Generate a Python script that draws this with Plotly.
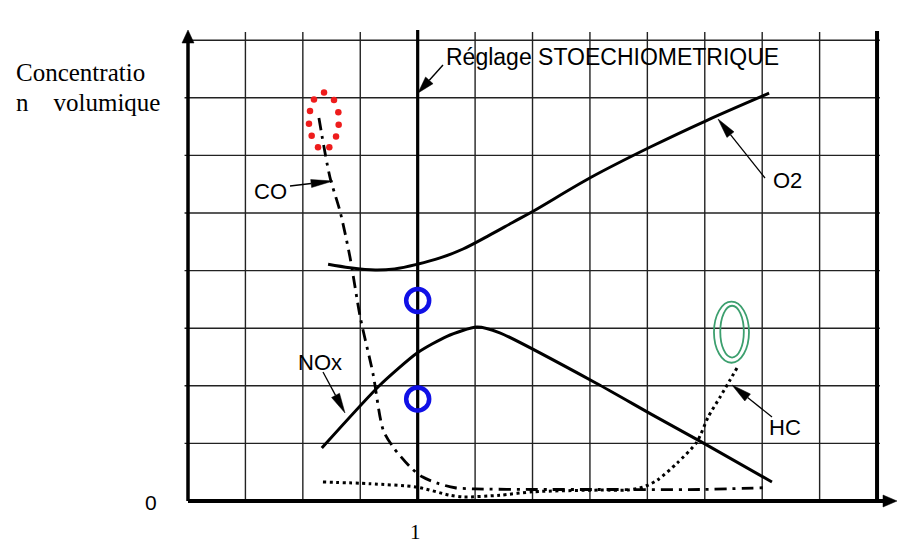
import math
import plotly.graph_objects as go

# ---------------- data (grid units: x = richness steps, stoich at 4; y = concentration steps) ----
o2_x = [2.44, 2.82, 3.26, 3.60, 3.99, 4.39, 4.79, 5.26, 5.66, 6.01, 7.02, 8.06, 9.04, 10.12]
o2_y = [4.11, 4.05, 4.01, 4.03, 4.11, 4.22, 4.375, 4.62, 4.84, 5.03, 5.62, 6.15, 6.61, 7.08]

nox_x = [2.33, 3.34, 3.99, 4.51, 5.03, 5.43, 7.12, 8.08, 8.97, 10.17]
nox_y = [0.92, 2.01, 2.57, 2.86, 3.02, 2.92, 2.04, 1.50, 1.01, 0.33]

co_x = [2.28, 2.47, 2.65, 2.82, 3.00, 3.22, 3.40, 3.57, 3.87, 4.08, 4.34, 4.65, 5.00, 6.00, 7.18, 8.92, 10.01]
co_y = [6.65, 5.63, 5.02, 4.24, 3.19, 2.22, 1.23, 0.94, 0.59, 0.42, 0.31, 0.23, 0.21, 0.20, 0.20, 0.20, 0.23]

hc_x = [2.35, 3.17, 3.99, 4.56, 4.79, 5.43, 6.01, 7.18, 7.65, 7.92, 8.17, 8.52, 8.86, 9.06, 9.27, 9.44, 9.56]
hc_y = [0.33, 0.30, 0.24, 0.10, 0.07, 0.10, 0.16, 0.19, 0.19, 0.24, 0.36, 0.66, 1.02, 1.46, 1.81, 2.10, 2.31]

# red dotted highlight around CO start
red_dots_x = [2.369, 2.194, 2.543, 2.125, 2.618, 2.107, 2.624, 2.154, 2.578, 2.264, 2.461]
red_dots_y = [7.09, 6.97, 6.96, 6.77, 6.75, 6.55, 6.53, 6.34, 6.33, 6.14, 6.14]

# blue circles on the stoichiometric line
blue_x = [4.0, 4.0]
blue_y = [3.48, 1.77]

# green double ellipse (x0, x1, y0, y1)
green_outer = [9.16, 9.77, 2.40, 3.46]
green_inner = [9.27, 9.68, 2.49, 3.39]

grid_x = list(range(1, 12))
grid_y = list(range(1, 9))
stoich_x = 4
x_tick_label = "1"
y_tick_label = "0"

# ---------------- geometry of the page ----------------
PAGE_OFF = 8                  # default body margin of the html page
W, H = 917 - PAGE_OFF, 545 - PAGE_OFF
X0PX, Y0PX = 188.0, 501.0     # page pixel of grid origin
SX, SY = 57.42, 57.6          # pixels per grid unit

def ux(px):
    return (px - X0PX) / SX

def uy(py):
    return (Y0PX - py) / SY

xr = [ux(PAGE_OFF), ux(PAGE_OFF + W)]
yr = [uy(PAGE_OFF + H), uy(PAGE_OFF)]

fig = go.Figure()

def add_line(xs, ys, width, color="black", dash=None, shape="linear", smoothing=0.8):
    line = dict(color=color, width=width, dash=dash, shape=shape)
    if shape == "spline":
        line["smoothing"] = smoothing
    fig.add_trace(go.Scatter(x=xs, y=ys, mode="lines", line=line,
                             hoverinfo="skip", showlegend=False))

def add_arrow(tail, tip, head_len, head_w, lw, color="black"):
    dxp = (tip[0] - tail[0]) * SX
    dyp = (tip[1] - tail[1]) * SY
    L = math.hypot(dxp, dyp)
    dx, dy = dxp / L, dyp / L
    bx = tip[0] - dx * head_len / SX
    by = tip[1] - dy * head_len / SY
    px, py = -dy, dx
    add_line([tail[0], bx], [tail[1], by], lw, color)
    tri_x = [tip[0], bx + px * head_w / 2 / SX, bx - px * head_w / 2 / SX, tip[0]]
    tri_y = [tip[1], by + py * head_w / 2 / SY, by - py * head_w / 2 / SY, tip[1]]
    fig.add_trace(go.Scatter(x=tri_x, y=tri_y, mode="lines", fill="toself",
                             fillcolor=color, line=dict(color=color, width=0.5),
                             hoverinfo="skip", showlegend=False))

# grid
top_v = uy(32)
gx, gy = [], []
for v in grid_x:
    if v == stoich_x:
        continue
    gx += [v, v, None]
    gy += [0, top_v, None]
for h in grid_y:
    gx += [-0.06, 12.05, None]
    gy += [h, h, None]
add_line(gx, gy, 1.4, "#222222")

# thick lines: stoichiometric, right border
add_line([stoich_x, stoich_x], [0, uy(30)], 3.2)
add_line([12, 12], [0, uy(31)], 4)

# axes with arrows
add_arrow((0, 0), (0, uy(30)), 13, 12, 3.5)
add_arrow((0, 0), (ux(897), 0), 14, 12, 4)

# curves
add_line(o2_x, o2_y, 3, shape="spline", smoothing=1.0)
add_line(nox_x, nox_y, 3, shape="spline", smoothing=0.6)
add_line(co_x, co_y, 2.8, dash="12px,6px,3px,6px", shape="spline", smoothing=0.8)
add_line(hc_x, hc_y, 3, dash="3px,3.5px", shape="spline", smoothing=0.7)

# red dotted ellipse
fig.add_trace(go.Scatter(x=red_dots_x, y=red_dots_y, mode="markers",
                         marker=dict(color="#ee1c1c", size=6.5),
                         hoverinfo="skip", showlegend=False))
# blue circles
fig.add_trace(go.Scatter(x=blue_x, y=blue_y, mode="markers",
                         marker=dict(symbol="circle-open", color="#1010e6", size=23,
                                     line=dict(width=4.5, color="#1010e6")),
                         hoverinfo="skip", showlegend=False))
# green double ellipse
for e in (green_outer, green_inner):
    fig.add_shape(type="circle", xref="x", yref="y", x0=e[0], x1=e[1], y0=e[2], y1=e[3],
                  line=dict(color="#3c9f6e", width=1.8))

# label arrows (tail -> tip)
add_arrow((ux(443), uy(65)), (ux(418), uy(93)), 17, 10, 1.4)    # Réglage
add_arrow((ux(290), uy(186)), (ux(333), uy(181)), 22, 8, 1.4)   # CO
add_arrow((ux(765), uy(178)), (ux(718), uy(119)), 20, 9, 1.3)   # O2
add_arrow((ux(323), uy(372)), (ux(345), uy(413)), 20, 9, 1.3)   # NOx
add_arrow((ux(772), uy(417)), (ux(732), uy(385)), 20, 9, 1.3)   # HC

sans = "Liberation Sans, Arial, sans-serif"
serif = "Liberation Serif, Times New Roman, serif"

def text(px, py, s, size, fam, xanchor="center"):
    fig.add_annotation(x=ux(px), y=uy(py), xref="x", yref="y", text=s, showarrow=False,
                       xanchor=xanchor, yanchor="middle",
                       font=dict(family=fam, size=size, color="black"))

text(612, 57, "Réglage STOECHIOMETRIQUE", 23, sans)
text(270, 191, "CO", 22, sans)
text(787, 180, "O2", 22, sans)
text(320, 362, "NOx", 22, sans)
text(785, 427, "HC", 22, sans)
text(151, 502, y_tick_label, 21, sans)
text(415, 532, x_tick_label, 21, serif)
text(14, 72, "Concentratio", 25, serif, xanchor="left")
text(14, 102, "n&nbsp;&nbsp;&nbsp;&nbsp;volumique", 25, serif, xanchor="left")

fig.update_layout(
    width=W, height=H,
    margin=dict(l=0, r=0, t=0, b=0),
    paper_bgcolor="white", plot_bgcolor="white",
    xaxis=dict(range=xr, visible=False, fixedrange=True),
    yaxis=dict(range=yr, visible=False, fixedrange=True),
    showlegend=False,
)

fig.write_html("out.html")
